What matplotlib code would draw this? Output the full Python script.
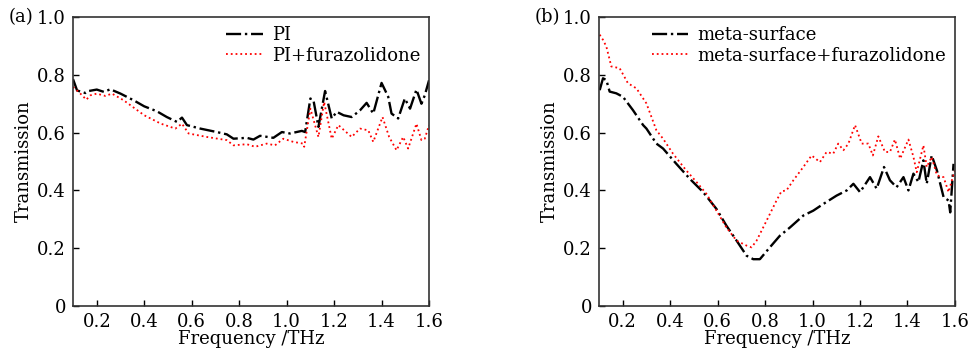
import numpy as np
import matplotlib.pyplot as plt
from matplotlib.ticker import FuncFormatter

# panel (a): PI film
freq_pi = [0.10, 0.117, 0.152, 0.166, 0.20, 0.23, 0.257, 0.30, 0.355, 0.40, 0.453, 0.495,
           0.538, 0.559, 0.58, 0.636, 0.706, 0.748, 0.776, 0.832, 0.86, 0.888, 0.944, 0.98,
           1.014, 1.064, 1.078, 1.10, 1.113, 1.134, 1.162, 1.19, 1.211, 1.24, 1.274, 1.309,
           1.337, 1.365, 1.40, 1.428, 1.442, 1.47, 1.498, 1.52, 1.547, 1.568, 1.582, 1.60]
trans_pi = [0.785, 0.746, 0.737, 0.744, 0.749, 0.741, 0.750, 0.735, 0.712, 0.691, 0.674, 0.654,
            0.637, 0.652, 0.626, 0.614, 0.602, 0.594, 0.579, 0.582, 0.576, 0.589, 0.582, 0.602,
            0.597, 0.606, 0.602, 0.718, 0.712, 0.620, 0.744, 0.649, 0.672, 0.660, 0.654, 0.677,
            0.703, 0.666, 0.772, 0.724, 0.666, 0.649, 0.718, 0.683, 0.749, 0.700, 0.729, 0.781]

freq_pi_f = [0.10, 0.131, 0.156, 0.173, 0.20, 0.236, 0.264, 0.313, 0.40, 0.47, 0.531, 0.559,
             0.587, 0.664, 0.748, 0.776, 0.832, 0.867, 0.916, 0.951, 0.986, 1.028, 1.07, 1.074,
             1.10, 1.134, 1.158, 1.19, 1.218, 1.274, 1.309, 1.344, 1.365, 1.404, 1.432, 1.463,
             1.491, 1.512, 1.547, 1.568, 1.582, 1.60]
trans_pi_f = [0.758, 0.735, 0.714, 0.729, 0.735, 0.727, 0.735, 0.712, 0.660, 0.631, 0.614, 0.631,
              0.597, 0.585, 0.574, 0.556, 0.560, 0.551, 0.562, 0.556, 0.579, 0.568, 0.562, 0.551,
              0.683, 0.585, 0.706, 0.579, 0.626, 0.585, 0.614, 0.608, 0.568, 0.654, 0.585, 0.539,
              0.585, 0.545, 0.631, 0.574, 0.579, 0.626]

# panel (b): meta-surface
freq_ms = [0.103, 0.117, 0.131, 0.145, 0.173, 0.201, 0.243, 0.286, 0.30, 0.342, 0.37, 0.426,
           0.483, 0.539, 0.595, 0.637, 0.68, 0.722, 0.75, 0.778, 0.82, 0.862, 0.905, 0.961,
           1.003, 1.045, 1.101, 1.144, 1.172, 1.20, 1.242, 1.27, 1.301, 1.326, 1.354, 1.383,
           1.404, 1.425, 1.446, 1.467, 1.481, 1.502, 1.524, 1.552, 1.573, 1.58, 1.594]
trans_ms = [0.747, 0.788, 0.782, 0.742, 0.736, 0.724, 0.678, 0.626, 0.614, 0.562, 0.545, 0.492,
            0.440, 0.394, 0.336, 0.278, 0.226, 0.174, 0.162, 0.162, 0.203, 0.243, 0.272, 0.313,
            0.330, 0.353, 0.382, 0.400, 0.423, 0.394, 0.446, 0.406, 0.481, 0.435, 0.411, 0.446,
            0.400, 0.458, 0.429, 0.504, 0.423, 0.521, 0.469, 0.377, 0.365, 0.324, 0.492]

freq_ms_f = [0.103, 0.117, 0.131, 0.152, 0.187, 0.222, 0.258, 0.30, 0.342, 0.37, 0.412, 0.468,
             0.511, 0.553, 0.595, 0.637, 0.68, 0.722, 0.743, 0.764, 0.806, 0.848, 0.869, 0.89,
             0.919, 0.961, 0.996, 1.031, 1.059, 1.087, 1.108, 1.13, 1.151, 1.179, 1.207, 1.235,
             1.254, 1.277, 1.305, 1.326, 1.347, 1.369, 1.404, 1.425, 1.439, 1.467, 1.481, 1.502,
             1.524, 1.552, 1.573, 1.587, 1.60]
trans_ms_f = [0.939, 0.921, 0.898, 0.829, 0.823, 0.771, 0.753, 0.701, 0.608, 0.579, 0.527, 0.469,
              0.429, 0.388, 0.330, 0.272, 0.226, 0.209, 0.203, 0.226, 0.295, 0.365, 0.397, 0.400,
              0.435, 0.481, 0.521, 0.498, 0.533, 0.527, 0.562, 0.539, 0.562, 0.626, 0.562, 0.562,
              0.521, 0.587, 0.533, 0.533, 0.576, 0.510, 0.576, 0.516, 0.463, 0.556, 0.481, 0.516,
              0.452, 0.446, 0.394, 0.435, 0.469]

x_ticks = [0.2, 0.4, 0.6, 0.8, 1.0, 1.2, 1.4, 1.6]
y_ticks = [0, 0.2, 0.4, 0.6, 0.8, 1.0]

plt.rcParams['font.family'] = 'DejaVu Serif'
plt.rcParams['font.size'] = 13

fig = plt.figure(figsize=(9.7, 3.55), dpi=100)
ax_a = fig.add_axes([0.0753, 0.138, 0.367, 0.814])
ax_b = fig.add_axes([0.6175, 0.138, 0.367, 0.814])

panels = [
    (ax_a, '(a)', freq_pi, trans_pi, 'PI', freq_pi_f, trans_pi_f, 'PI+furazolidone'),
    (ax_b, '(b)', freq_ms, trans_ms, 'meta-surface', freq_ms_f, trans_ms_f,
     'meta-surface+furazolidone'),
]

for ax, tag, f1, t1, lab1, f2, t2, lab2 in panels:
    ax.plot(f1, t1, color='black', linestyle='-.', linewidth=1.7, label=lab1)
    ax.plot(f2, t2, color='red', linestyle=':', linewidth=1.3, label=lab2)
    ax.set_xlim(0.1, 1.6)
    ax.set_ylim(0, 1.0)
    ax.set_xticks(x_ticks)
    ax.set_yticks(y_ticks)
    ax.xaxis.set_major_formatter(FuncFormatter(lambda v, p: '%.1f' % v))
    ax.yaxis.set_major_formatter(FuncFormatter(lambda v, p: '0' if v == 0 else '%.1f' % v))
    ax.tick_params(direction='in', length=4, width=1, labelsize=13, pad=5)
    for s in ax.spines.values():
        s.set_linewidth(1.2)
        s.set_color('#333333')
    ax.set_xlabel('Frequency /THz', fontsize=13, labelpad=-1)
    ax.set_ylabel('Transmission', fontsize=13, labelpad=3)
    ax.legend(loc='upper right', frameon=False, fontsize=13, handlelength=2.0,
              borderaxespad=0.1, labelspacing=0.15, handletextpad=0.5)
    ax.text(-0.18, 1.0, tag, transform=ax.transAxes, fontsize=13, va='center', ha='left')

fig.savefig('out.png', dpi=100)
